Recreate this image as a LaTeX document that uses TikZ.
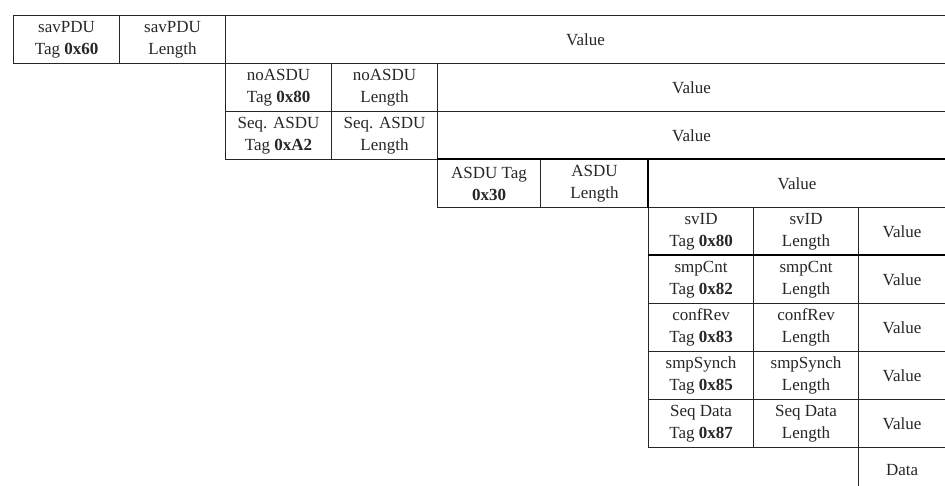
\documentclass[tikz,border=0pt]{standalone}
\usepackage{fontspec}
\setmainfont{Liberation Serif}
\begin{document}
\begin{tikzpicture}[x=1pt,y=-1pt,
  cell/.style={draw=black!85, line width=1.1pt, anchor=north west, inner sep=0pt,
    align=center, minimum height=48pt, text=black!85,
    font=\fontsize{17}{22}\selectfont},
  heavy/.style={draw=black, line width=2pt}]
\useasboundingbox (0,0) rectangle (945,485);
\clip (0,0) rectangle (945,485);
% row 1
\node[cell, minimum width=106pt] (pduTag) at (13,15) {savPDU\\Tag \textbf{0x60}};
\node[cell, minimum width=106pt] (pduLen) at (119,15) {savPDU\\Length};
\node[cell, minimum width=730pt] (pduVal) at (225,15) {\hspace*{-10pt}Value};
% row 2
\node[cell, minimum width=106pt] (noTag) at (225,63) {noASDU\\Tag \textbf{0x80}};
\node[cell, minimum width=106pt] (noLen) at (331,63) {noASDU\\Length};
\node[cell, minimum width=518pt] (noVal) at (437,63) {\hspace*{-10pt}Value};
% row 3
\node[cell, minimum width=106pt] (seqTag) at (225,111) {Seq. ASDU\\Tag \textbf{0xA2}};
\node[cell, minimum width=106pt] (seqLen) at (331,111) {Seq. ASDU\\Length};
\node[cell, minimum width=518pt] (seqVal) at (437,111) {\hspace*{-10pt}Value};
% row 4
\node[cell, minimum width=103pt] (asduTag) at (437,159) {ASDU Tag\\\textbf{0x30}};
\node[cell, minimum width=108pt] (asduLen) at (540,159) {ASDU\\Length};
\node[cell, minimum width=307pt] (asduVal) at (648,159) {\hspace*{-10pt}Value};
% rows 5-9
\node[cell, minimum width=105pt] (svTag) at (648,207) {svID\\Tag \textbf{0x80}};
\node[cell, minimum width=105pt] (svLen) at (753,207) {svID\\Length};
\node[cell, minimum width=97pt] (svVal) at (858,207) {\hspace*{-10pt}Value};
\node[cell, minimum width=105pt] (cntTag) at (648,255) {smpCnt\\Tag \textbf{0x82}};
\node[cell, minimum width=105pt] (cntLen) at (753,255) {smpCnt\\Length};
\node[cell, minimum width=97pt] (cntVal) at (858,255) {\hspace*{-10pt}Value};
\node[cell, minimum width=105pt] (revTag) at (648,303) {confRev\\Tag \textbf{0x83}};
\node[cell, minimum width=105pt] (revLen) at (753,303) {confRev\\Length};
\node[cell, minimum width=97pt] (revVal) at (858,303) {\hspace*{-10pt}Value};
\node[cell, minimum width=105pt] (synTag) at (648,351) {smpSynch\\Tag \textbf{0x85}};
\node[cell, minimum width=105pt] (synLen) at (753,351) {smpSynch\\Length};
\node[cell, minimum width=97pt] (synVal) at (858,351) {\hspace*{-10pt}Value};
\node[cell, minimum width=105pt] (sdTag) at (648,399) {Seq Data\\Tag \textbf{0x87}};
\node[cell, minimum width=105pt] (sdLen) at (753,399) {Seq Data\\Length};
\node[cell, minimum width=97pt] (sdVal) at (858,399) {\hspace*{-10pt}Value};
% row 10
\node[cell, minimum width=97pt, minimum height=44pt] (data) at (858,447) {\hspace*{-10pt}Data};
% heavier rules
\draw[heavy] (asduTag.north west) -- (asduVal.north east);
\draw[heavy] (asduVal.north west) -- (asduVal.south west);
\draw[heavy] (cntTag.north west) -- (cntVal.north east);
\end{tikzpicture}
\end{document}
